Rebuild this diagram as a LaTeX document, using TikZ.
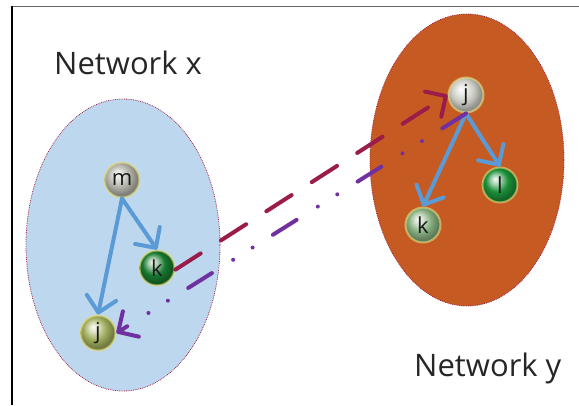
\documentclass[tikz,border=0pt]{standalone}
\usepackage{fontspec}
\setmainfont{Open Sans}
\usetikzlibrary{arrows.meta}

\definecolor{netblue}{HTML}{BDD7EE}
\definecolor{netorange}{HTML}{C55A22}
\definecolor{rimred}{HTML}{A0284E}
\definecolor{linkblue}{HTML}{5B9BD5}
\definecolor{linkred}{HTML}{9B1B4A}
\definecolor{linkpurple}{HTML}{7030A0}
\definecolor{halo}{HTML}{E8E07A}
\definecolor{ballgrey}{HTML}{B2B2A8}
\definecolor{ballwhite}{HTML}{CACAC2}
\definecolor{balldarkgreen}{HTML}{17782E}
\definecolor{ballolive}{HTML}{9FAC5C}
\definecolor{balllightgreen}{HTML}{86AE7E}
\definecolor{ballgreen}{HTML}{1B8E37}
\colorlet{shadecol}{ballgrey}

% glossy sphere: white highlight top left, soft coloured rim
\pgfdeclareradialshading[shadecol]{glossball}{\pgfqpoint{-7bp}{9bp}}{%
  color(0bp)=(shadecol!4!white);
  color(7bp)=(shadecol!40!white);
  color(16bp)=(shadecol);
  color(25bp)=(shadecol!72!black);
  color(50bp)=(shadecol!72!black)}

\tikzset{
  netzone/.style={draw=rimred, densely dotted, line width=0.8pt},
  netlabel/.style={anchor=base west, inner sep=0pt, text=black!85,
                   font=\fontsize{31}{31}\selectfont},
  ballnode/.style={circle, minimum size=35pt, inner sep=0pt,
                   /utils/exec={\colorlet{shadecol}{#1}}, shading=glossball,
                   draw=halo, draw opacity=0.6, line width=2pt,
                   text=black!90, font=\fontsize{22}{22}\selectfont},
  barbtip/.style={-{Straight Barb[length=15pt,width=30pt,round]}},
  bluelink/.style={draw=linkblue, line width=4pt, line cap=round, barbtip},
  redlink/.style={draw=linkred, line width=4pt, line cap=round,
                  dash pattern=on 30pt off 24pt, barbtip},
  purplelink/.style={draw=linkpurple, line width=4pt, line cap=round,
                     dash pattern=on 28pt off 24pt on 0pt off 23pt on 0pt off 25pt,
                     barbtip},
}

\begin{document}
\begin{tikzpicture}[x=1pt, y=-1pt]
  \useasboundingbox (0,0) rectangle (579,405);

  % page frame (top and left edges)
  \draw[draw=black!60, line width=1.5pt] (11,6.5) -- (579,6.5);
  \draw[draw=black, line width=1.1pt] (12,6) -- (12,405);

  % the two networks
  \fill[netblue] (123,245) ellipse [x radius=97, y radius=146];
  \draw[netzone] (123,245) ellipse [x radius=97, y radius=146];
  \fill[netorange] (467,160) ellipse [x radius=97, y radius=146];
  \draw[netzone] (467,160) ellipse [x radius=97, y radius=146];

  \node[netlabel] (labx) at (54,74) {Network x};
  \node[netlabel] (laby) at (414,376) {Network y};

  % nodes of network x
  \node[ballnode=ballgrey] (m) at (122,180) {m};
  \node[ballnode=balldarkgreen] (kx) at (157,268) {k};
  \node[ballnode=ballolive] (jx) at (98,333) {j};

  % nodes of network y
  \node[ballnode=ballwhite] (jy) at (466,95) {j};
  \node[ballnode=balllightgreen] (ky) at (423,225) {k};
  \node[ballnode=ballgreen] (l) at (500,185) {l};

  % links inside each network
  \draw[bluelink] (m.south) -- (kx.north);
  \draw[bluelink] (m.south) -- (jx.north);
  \draw[bluelink] (jy.south) -- (ky.north);
  \draw[bluelink] (jy.south) -- (l.north);

  % links across the networks
  \draw[redlink] (kx.-5) -- (jy.west);
  \draw[purplelink] (jy.south) -- (jx.east);
\end{tikzpicture}
\end{document}
